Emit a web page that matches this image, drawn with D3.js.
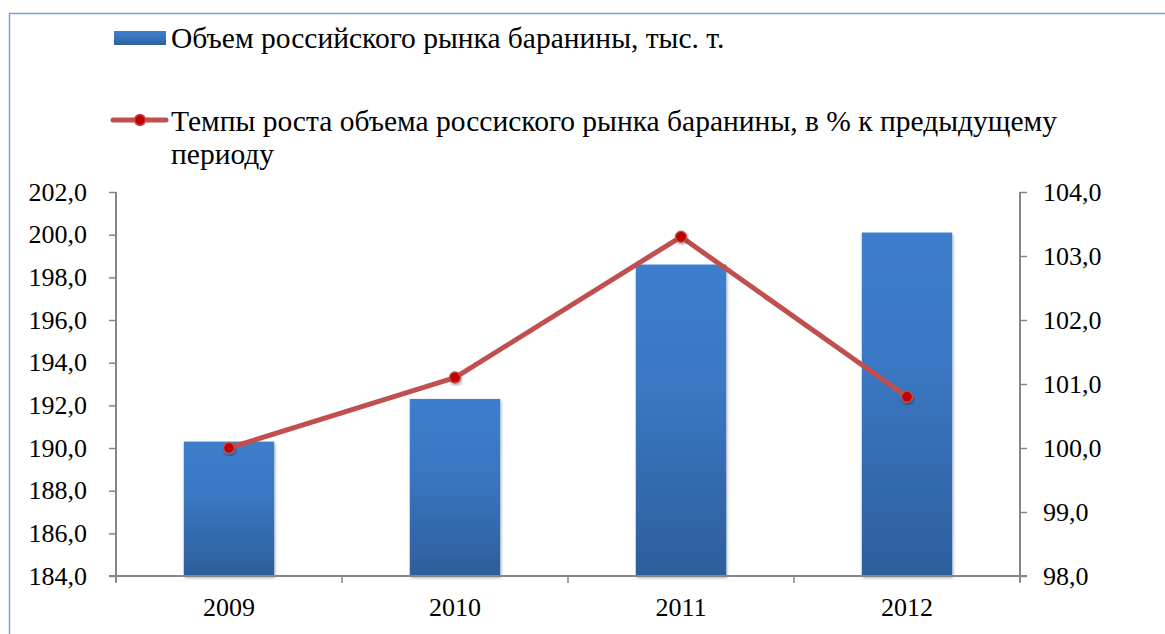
<!DOCTYPE html>
<html>
<head>
<meta charset="utf-8">
<script src="https://cdn.jsdelivr.net/npm/d3@7"></script>
<style>
  body { margin: 0; background: #fff; }
  text { font-family: 'Liberation Serif', 'Times New Roman', serif; fill: #000; }
</style>
</head>
<body>
<div id="chart"></div>
<script>
const years = ['2009', '2010', '2011', '2012']
const volume = [190.3, 192.3, 198.6, 200.1]
const growth = [100.0, 101.1, 103.3, 100.8]
const leftTicks = [184, 186, 188, 190, 192, 194, 196, 198, 200, 202]
const rightTicks = [98, 99, 100, 101, 102, 103, 104]
const barLabel = 'Объем российского рынка баранины, тыс. т.'
const lineLabel = ['Темпы роста объема россиского рынка баранины, в % к предыдущему', 'периоду']

const W = 1165
const H = 634
const margin = { top: 192, left: 116, right: 145, bottom: 58 }
const width = W - margin.left - margin.right
const height = H - margin.top - margin.bottom

const serif = "'Liberation Serif', 'Times New Roman', serif"
const fmt = d => d.toFixed(1).replace('.', ',')

const root = d3
  .select('#chart')
  .append('svg')
  .attr('width', W)
  .attr('height', H)

const defs = root.append('defs')
const grad = defs
  .append('linearGradient')
  .attr('id', 'barGrad')
  .attr('x1', 0).attr('y1', 0).attr('x2', 0).attr('y2', 1)
grad.append('stop').attr('offset', '0%').attr('stop-color', '#3c7ecc')
grad.append('stop').attr('offset', '40%').attr('stop-color', '#3a77c2')
grad.append('stop').attr('offset', '100%').attr('stop-color', '#2d5e9c')

const shadow = defs.append('filter').attr('id', 'shadow')
  .attr('x', '-20%').attr('y', '-20%').attr('width', '140%').attr('height', '140%')
shadow.append('feDropShadow')
  .attr('dx', 1).attr('dy', 2).attr('stdDeviation', 1.5)
  .attr('flood-color', '#000').attr('flood-opacity', 0.3)

// outer frame (right and bottom edges fall outside the picture)
root
  .append('rect')
  .attr('x', 9.5)
  .attr('y', 13.5)
  .attr('width', 1180)
  .attr('height', 650)
  .attr('fill', 'none')
  .attr('stroke', '#7aa0d4')
  .attr('stroke-width', 1.5)

const svg = root
  .append('g')
  .attr('transform', 'translate(' + margin.left + ',' + margin.top + ')')

const x = d3
  .scaleBand()
  .domain(years)
  .range([0, width])
  .paddingInner(0.6)
  .paddingOuter(0.3)

const yLeft = d3.scaleLinear().domain([184, 202]).range([height, 0])
const yRight = d3.scaleLinear().domain([98, 104]).range([height, 0])

// bars
svg
  .selectAll('.bar')
  .data(years)
  .enter()
  .append('rect')
  .attr('class', 'bar')
  .attr('x', d => x(d))
  .attr('width', x.bandwidth())
  .attr('y', (d, i) => yLeft(volume[i]))
  .attr('height', (d, i) => height - yLeft(volume[i]))
  .attr('fill', 'url(#barGrad)')
  .attr('filter', 'url(#shadow)')

// axes
const axisColor = '#868686'

const leftAxis = svg
  .append('g')
  .call(d3.axisLeft(yLeft).tickValues(leftTicks).tickFormat(fmt).tickSize(7).tickPadding(22))
const rightAxis = svg
  .append('g')
  .attr('transform', `translate(${width},0)`)
  .call(d3.axisRight(yRight).tickValues(rightTicks).tickFormat(fmt).tickSize(7).tickPadding(16))

;[leftAxis, rightAxis].forEach(a => {
  a.attr('font-family', serif)
  a.select('.domain').attr('stroke', axisColor).attr('stroke-width', 2)
    .attr('d', `M0,0V${height + 6}`)
  a.selectAll('.tick line').attr('stroke', axisColor).attr('stroke-width', 1.5)
  a.selectAll('.tick text')
    .style('font-family', serif)
    .style('font-size', '26px')
    .attr('fill', '#000')
})

// x axis line and category dividers
svg
  .append('line')
  .attr('x1', -7)
  .attr('x2', width + 7)
  .attr('y1', height)
  .attr('y2', height)
  .attr('stroke', axisColor)
  .attr('stroke-width', 2)

const dividers = d3.range(years.length + 1).map(i => i * x.step())
svg
  .selectAll('.divider')
  .data(dividers)
  .enter()
  .append('line')
  .attr('x1', d => d)
  .attr('x2', d => d)
  .attr('y1', height)
  .attr('y2', height + 7)
  .attr('stroke', axisColor)
  .attr('stroke-width', 1.5)

svg
  .selectAll('.year')
  .data(years)
  .enter()
  .append('text')
  .attr('x', d => x(d) + x.bandwidth() / 2)
  .attr('y', height + 40)
  .attr('text-anchor', 'middle')
  .style('font-size', '26px')
  .text(d => d)

// growth line
const line = d3
  .line()
  .x((d, i) => x(years[i]) + x.bandwidth() / 2)
  .y(d => yRight(d))

svg
  .append('path')
  .datum(growth)
  .attr('d', line)
  .attr('fill', 'none')
  .attr('stroke', '#c0504d')
  .attr('stroke-width', 5)
  .attr('stroke-linejoin', 'round')

svg
  .selectAll('.marker')
  .data(growth)
  .enter()
  .append('circle')
  .attr('cx', (d, i) => x(years[i]) + x.bandwidth() / 2)
  .attr('cy', d => yRight(d))
  .attr('r', 5.5)
  .attr('fill', '#c00000')
  .attr('stroke', '#c0504d')
  .attr('stroke-width', 1.5)
  .attr('filter', 'url(#shadow)')

// legend
const legend = root.append('g')

legend
  .append('rect')
  .attr('x', 114)
  .attr('y', 31)
  .attr('width', 52)
  .attr('height', 14)
  .attr('fill', 'url(#barGrad)')

legend
  .append('text')
  .attr('x', 171)
  .attr('y', 48)
  .style('font-size', '29.5px')
  .text(barLabel)

legend
  .append('line')
  .attr('x1', 113)
  .attr('x2', 166)
  .attr('y1', 120)
  .attr('y2', 120)
  .attr('stroke', '#c0504d')
  .attr('stroke-width', 5)
  .attr('stroke-linecap', 'round')

legend
  .append('circle')
  .attr('cx', 140)
  .attr('cy', 120)
  .attr('r', 5.5)
  .attr('fill', '#c00000')
  .attr('stroke', '#c0504d')
  .attr('stroke-width', 1.5)

legend
  .selectAll('.line-label')
  .data(lineLabel)
  .enter()
  .append('text')
  .attr('x', 171)
  .attr('y', (d, i) => 131 + i * 33)
  .style('font-size', '29.5px')
  .text(d => d)
</script>
</body>
</html>
